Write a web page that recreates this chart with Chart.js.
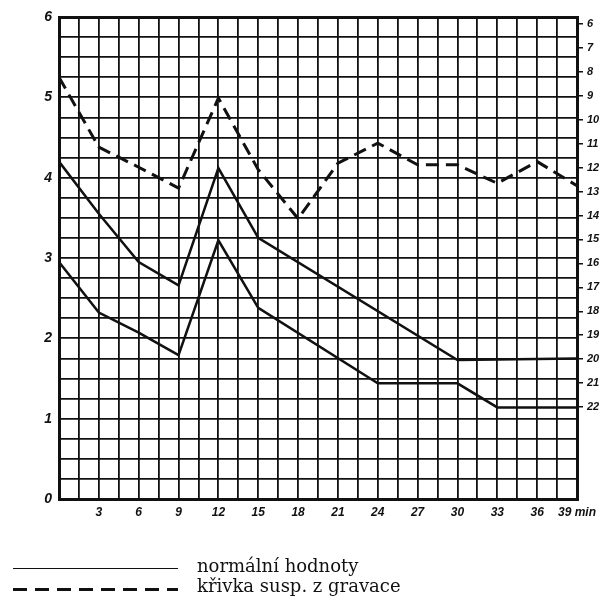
<!DOCTYPE html>
<html>
<head>
<meta charset="utf-8">
<script src="https://cdn.jsdelivr.net/npm/chart.js@4"></script>
<style>
    body { margin: 0; background: #fff; }
    #wrap { position: relative; width: 611px; height: 599px; }
    #chart { position: absolute; left: 0; top: 0; }
    .leg { position: absolute; left: 13px; font-family: "DejaVu Serif", serif; font-size: 18px; color: #111; }
    .leg span.line { position: absolute; left: 0; width: 165px; top: 0; }
    .leg span.txt { position: absolute; left: 184px; top: -13px; white-space: nowrap; }
    .dash { height: 2.5px; background: repeating-linear-gradient(90deg, #111 0 14px, transparent 14px 22px); }
</style>
</head>
<body>
<div id="wrap">
    <canvas id="chart" width="611" height="599"></canvas>
    <div class="leg" style="top:568px"><span class="line" style="border-top:1.5px solid #111"></span><span class="txt">normální hodnoty</span></div>
    <div class="leg" style="top:588px"><span class="line dash"></span><span class="txt">křivka susp. z gravace</span></div>
</div>
<script>
// Dữ liệu
const normHighX = [0, 3, 6, 9, 12, 15, 30, 39];
const normHighY = [4.2, 3.55, 2.95, 2.66, 4.12, 3.25, 1.73, 1.75];
const normLowX = [0, 3, 6, 9, 12, 15, 24, 30, 33, 39];
const normLowY = [2.95, 2.32, 2.07, 1.79, 3.22, 2.38, 1.44, 1.44, 1.14, 1.14];
const suspX = [0, 3, 6, 9, 12, 15, 18, 21, 24, 27, 30, 33, 36, 39];
const suspY = [5.25, 4.38, 4.13, 3.87, 4.99, 4.1, 3.49, 4.18, 4.43, 4.16, 4.16, 3.93, 4.2, 3.9];

// Nhãn trục
const leftTicks = [0, 1, 2, 3, 4, 5, 6];
const xTicks = [3, 6, 9, 12, 15, 18, 21, 24, 27, 30, 33, 36, 39];
const rightTicks = [6, 7, 8, 9, 10, 11, 12, 13, 14, 15, 16, 17, 18, 19, 20, 21, 22];

const toPoints = (xs, ys) => xs.map((x, i) => ({ x: x, y: ys[i] }));

function stepValues(min, max, step) {
    const out = [];
    for (let v = min; v <= max + 1e-9; v += step) out.push({ value: +v.toFixed(4) });
    return out;
}

const handFont = { family: 'Liberation Sans', style: 'italic', weight: 'bold' };

new Chart(document.getElementById('chart').getContext('2d'), {
    type: 'line',
    data: {
        datasets: [
            {
                label: 'normální hodnoty',
                data: toPoints(normHighX, normHighY),
                borderColor: '#111',
                borderWidth: 2.5,
                pointRadius: 0,
                tension: 0,
                yAxisID: 'y'
            },
            {
                label: 'normální hodnoty 2',
                data: toPoints(normLowX, normLowY),
                borderColor: '#111',
                borderWidth: 2.5,
                pointRadius: 0,
                tension: 0,
                yAxisID: 'y'
            },
            {
                label: 'křivka susp. z gravace',
                data: toPoints(suspX, suspY),
                borderColor: '#111',
                borderWidth: 3,
                borderDash: [13, 7],
                pointRadius: 0,
                tension: 0,
                yAxisID: 'y'
            }
        ]
    },
    options: {
        responsive: false,
        animation: false,
        layout: { padding: { top: 17, left: 0, right: 0, bottom: 0 } },
        plugins: { legend: { display: false }, tooltip: { enabled: false } },
        scales: {
            x: {
                type: 'linear',
                min: 0,
                max: 39,
                afterBuildTicks: s => { s.ticks = stepValues(0, 39, 1.5); },
                afterFit: s => { s.height = 100; },
                border: { color: '#111', width: 3 },
                grid: {
                    color: '#111',
                    drawTicks: false,
                    lineWidth: c => (c.tick && (c.tick.value === 0 || c.tick.value === 39)) ? 3 : 1.8
                },
                ticks: {
                    padding: 6,
                    color: '#111',
                    autoSkip: false,
                    maxRotation: 0,
                    font: Object.assign({ size: 12 }, handFont),
                    callback: v => xTicks.includes(v) ? (v === 39 ? '39 min' : String(v)) : ''
                }
            },
            y: {
                type: 'linear',
                position: 'left',
                min: 0,
                max: 6,
                afterBuildTicks: s => { s.ticks = stepValues(0, 6, 0.25); },
                afterFit: s => { s.width = 59; },
                border: { color: '#111', width: 3 },
                grid: {
                    color: '#111',
                    drawTicks: false,
                    lineWidth: c => (c.tick && (c.tick.value === 0 || c.tick.value === 6)) ? 3 : 1.8
                },
                ticks: {
                    padding: 7,
                    color: '#111',
                    autoSkip: false,
                    font: Object.assign({ size: 14 }, handFont),
                    callback: v => leftTicks.includes(v) ? String(v) : ''
                }
            },
            y2: {
                type: 'linear',
                position: 'right',
                reverse: true,
                min: 5.71,
                max: 25.84,
                afterBuildTicks: s => { s.ticks = rightTicks.map(v => ({ value: v })); },
                afterFit: s => { s.width = 34; },
                border: { color: '#111', width: 3 },
                grid: { drawOnChartArea: false, color: '#111', tickLength: 6, lineWidth: 1.5 },
                ticks: {
                    padding: 4,
                    color: '#111',
                    autoSkip: false,
                    font: Object.assign({ size: 11 }, handFont),
                    callback: v => String(v)
                }
            }
        }
    }
});
</script>
</body>
</html>
